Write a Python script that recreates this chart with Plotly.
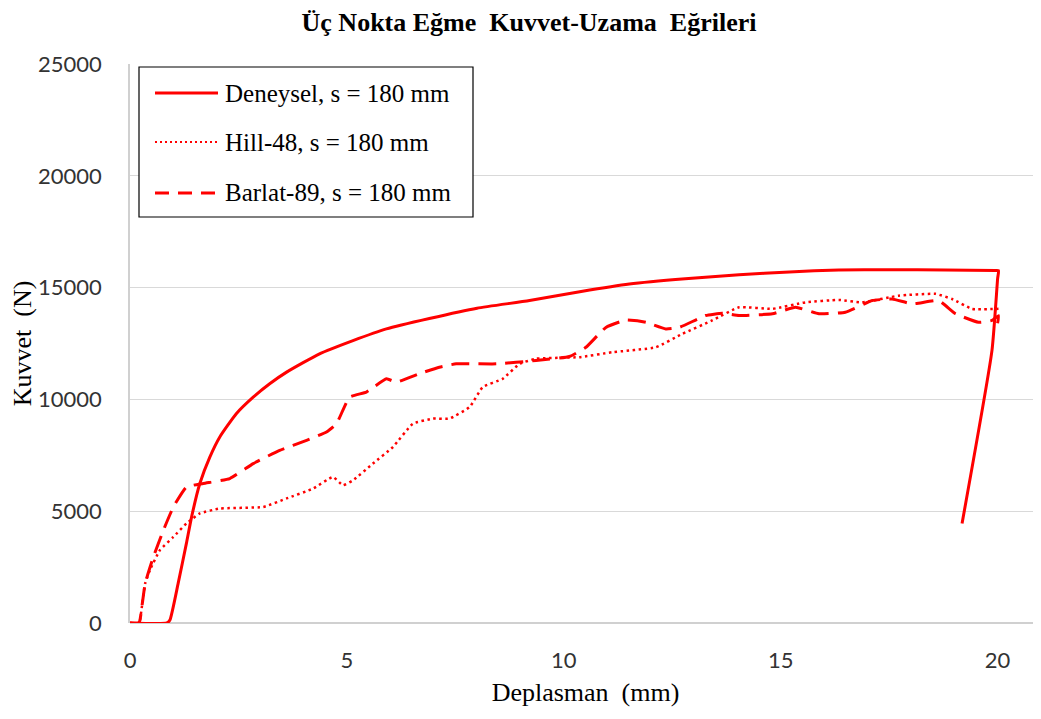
import plotly.graph_objects as go

# ---------------- data ----------------
deneysel_x = [0, 0.85, 0.92, 1.11, 1.30, 1.42, 1.61, 1.84, 2.07, 2.45, 2.84, 3.22, 3.61, 4.37,
              5.14, 5.91, 6.90, 8.0, 9.21, 10.4, 11.51, 12.8, 14.04, 15.2, 16.34,
              17.5, 18.8, 19.95, 20.02, 20.0, 19.87, 19.18]
deneysel_y = [0, 0, 130, 1770, 3560, 4745, 6240, 7420, 8320, 9360, 10100, 10700, 11220, 12040,
              12630, 13155, 13620, 14080, 14420, 14830, 15165, 15400, 15570, 15700, 15790,
              15800, 15790, 15765, 15760, 15400, 12190, 4450]

hill_x = [0, 0.20, 0.23, 0.35, 0.46, 0.69, 1.00, 1.30, 1.61, 2.07, 3.07, 3.61, 4.22, 4.68, 4.91,
          5.14, 5.60, 6.06, 6.52, 6.98, 7.36, 7.83, 8.13, 8.59, 8.98, 9.36, 10.36, 11.12, 12.12,
          12.73, 13.42, 14.04, 14.81, 15.57, 16.34, 16.88, 17.72, 18.57, 18.95, 19.41, 20.02]
hill_y = [0, 0, 130, 1770, 2370, 3260, 3850, 4450, 4900, 5120, 5190, 5570, 6010, 6530, 6160,
          6380, 7130, 7870, 8910, 9140, 9140, 9660, 10550, 10920, 11590, 11820, 11890, 12110, 12330,
          12930, 13530, 14120, 14050, 14340, 14450, 14340, 14640, 14720, 14490, 14050, 14050]

barlat_x = [0, 0.20, 0.23, 0.35, 0.54, 0.77, 1.00, 1.30, 1.69, 2.30, 2.84, 3.45, 4.07, 4.53, 4.76,
            5.06, 5.45, 5.91, 6.14, 6.67, 7.13, 7.52, 8.44, 9.36, 10.13, 10.51, 10.97, 11.43, 11.89,
            12.35, 12.66, 13.27, 13.65, 14.04, 14.81, 15.34, 15.88, 16.49, 17.11, 17.57, 18.03,
            18.64, 19.03, 19.56, 19.87, 20.02, 19.98]
barlat_y = [0, 0, 130, 1770, 2960, 4150, 5190, 6080, 6240, 6460, 7130, 7720, 8170, 8540, 8910,
            10100, 10330, 10920, 10770, 11150, 11440, 11590, 11590, 11740, 11920, 12330, 13220, 13550, 13450,
            13150, 13220, 13750, 13850, 13750, 13830, 14120, 13830, 13900, 14420, 14490, 14270,
            14420, 13830, 13450, 13530, 13750, 13200]

series_names = ["Deneysel, s = 180 mm", "Hill-48, s = 180 mm", "Barlat-89, s = 180 mm"]
x_ticks = [0, 5, 10, 15, 20]
y_ticks = [0, 5000, 10000, 15000, 20000, 25000]

# ---------------- layout constants ----------------
OFF = 8  # page body margin
W, H = 1041 - OFF, 719 - OFF
L, T = 130 - OFF, 64 - OFF
R, B = 0, H - (623 - OFF)
RED = "#ff0000"
SERIF = "Liberation Serif, Times New Roman, serif"
TICKFONT = "Lato, Open Sans, sans-serif"

styles = [dict(width=3, dash="solid", smoothing=0.5),
          dict(width=2.5, dash="2.5px,3.5px", smoothing=0.4),
          dict(width=3, dash="18px,9px", smoothing=0.4)]

fig = go.Figure()
for xs, ys, st, nm in zip([deneysel_x, hill_x, barlat_x], [deneysel_y, hill_y, barlat_y], styles, series_names):
    fig.add_trace(go.Scatter(x=xs, y=ys, mode="lines", name=nm, showlegend=False,
                             line=dict(color=RED, width=st["width"], dash=st["dash"], shape="spline",
                                       smoothing=st["smoothing"])))

pw = W - L - R
ph = H - T - B


def px_x(p):  # screen pixel -> paper
    return (p - OFF - L) / pw


def px_y(p):
    return (H - B - (p - OFF)) / ph


shapes = [dict(type="rect", xref="paper", yref="paper", x0=px_x(139), x1=px_x(473), y0=px_y(217), y1=px_y(67),
               line=dict(color="black", width=1.2), fillcolor="white", layer="above")]
annotations = []
rows = [93, 142, 193]
leg_dash = ["solid", "2px,3px", "14px,9px"]
leg_w = [3, 2, 3]
for r, nm, d, w in zip(rows, series_names, leg_dash, leg_w):
    shapes.append(dict(type="line", xref="paper", yref="paper", x0=px_x(155), x1=px_x(218),
                       y0=px_y(r), y1=px_y(r), line=dict(color=RED, width=w, dash=d), layer="above"))
    annotations.append(dict(xref="paper", yref="paper", x=px_x(223), y=px_y(r), xanchor="left", yanchor="middle",
                            text=nm, showarrow=False, font=dict(family=SERIF, size=25, color="black")))

fig.update_layout(
    width=W, height=H,
    margin=dict(l=L, r=R, t=T, b=B, autoexpand=False),
    paper_bgcolor="white", plot_bgcolor="white",
    title=dict(text="<b>Üç Nokta Eğme  Kuvvet-Uzama  Eğrileri</b>", x=(529 - OFF) / W, xanchor="center",
               y=1 - (22 - OFF) / H, yanchor="middle", font=dict(family=SERIF, size=26, color="black"),
               automargin=False),
    xaxis=dict(range=[0, 21], tickvals=x_ticks, showgrid=False, zeroline=False, automargin=False,
               showline=False, tickfont=dict(family=TICKFONT, size=22, color="#333333"),
               ticks="", ticklabelstandoff=22,
               title=dict(text="Deplasman  (mm)", font=dict(family=SERIF, size=26, color="black"), standoff=10)),
    yaxis=dict(range=[0, 25000], tickvals=y_ticks, tickformat="d", showgrid=True, gridcolor="#d9d9d9",
               gridwidth=1.3, automargin=False,
               zeroline=True, zerolinecolor="#d0d0d0", zerolinewidth=1.5,
               showline=True, linecolor="#d0d0d0", linewidth=1.5,
               tickfont=dict(family=TICKFONT, size=22, color="#333333"), ticks="", ticklabelstandoff=22,
               title=dict(text="Kuvvet  (N)", font=dict(family=SERIF, size=26, color="black"), standoff=14)),
    shapes=shapes, annotations=annotations,
)

fig.write_html("out.html")
